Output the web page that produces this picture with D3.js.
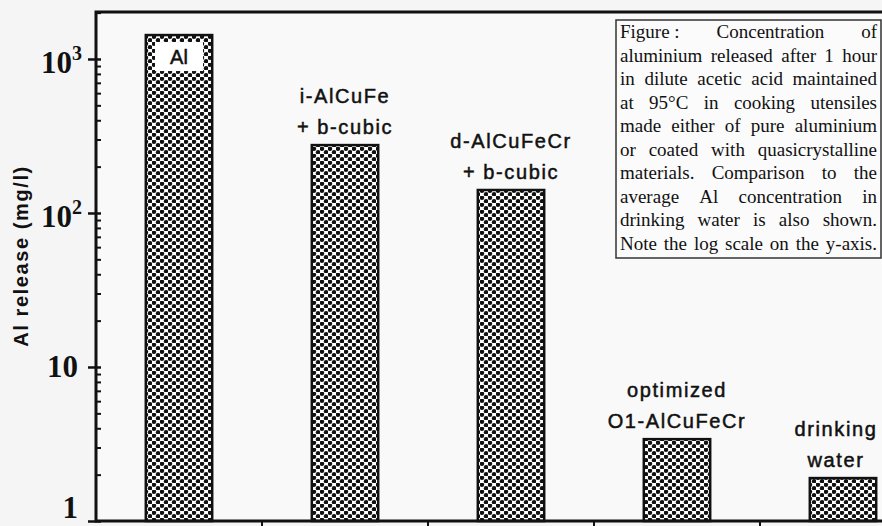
<!DOCTYPE html>
<html>
<head>
<meta charset="utf-8">
<script src="https://cdn.jsdelivr.net/npm/d3@7"></script>
<style>
  html, body { margin: 0; padding: 0; background: #f5f5f5; }
  svg { display: block; }
</style>
</head>
<body>
<script>
// Data
const categories = ["Al", "i-AlCuFe", "d-AlCuFeCr", "optimized", "drinking water"];
const values = [1430, 276, 141, 3.4, 1.9];
const barLabels = [["Al"], ["i-AlCuFe", "+ b-cubic"], ["d-AlCuFeCr", "+ b-cubic"], ["optimized", "O1-AlCuFeCr"], ["drinking", "water"]];
const majorTicks = [1, 10, 100, 1000];
const majorLabels = [["1", ""], ["10", ""], ["10", "2"], ["10", "3"]];
const captionLines = [
  ["Figure :", "Concentration", "of"],
  ["aluminium", "released", "after", "1", "hour"],
  ["in", "dilute", "acetic", "acid", "maintained"],
  ["at", "95°C", "in", "cooking", "utensiles"],
  ["made", "either", "of", "pure", "aluminium"],
  ["or", "coated", "with", "quasicrystalline"],
  ["materials.", "Comparison", "to", "the"],
  ["average", "Al", "concentration", "in"],
  ["drinking", "water", "is", "also", "shown."],
  ["Note", "the", "log", "scale", "on", "the", "y-axis."]
];

const width = 882, height = 526;
const margin = { left: 96, top: 12, bottom: 521 };

const svg = d3.select("body").append("svg")
  .attr("width", width)
  .attr("height", height);

// dotted fill like the scanned screen tone
const defs = svg.append("defs");
const pat = defs.append("pattern")
  .attr("id", "dots")
  .attr("patternUnits", "userSpaceOnUse")
  .attr("width", 8).attr("height", 7);
pat.append("rect").attr("width", 8).attr("height", 7).attr("fill", "#fff");
pat.append("circle").attr("cx", 2).attr("cy", 1.75).attr("r", 2.2).attr("fill", "#111");
pat.append("circle").attr("cx", 6).attr("cy", 5.25).attr("r", 2.2).attr("fill", "#111");

// plot area background
svg.append("rect")
  .attr("x", margin.left).attr("y", margin.top)
  .attr("width", width - margin.left).attr("height", margin.bottom - margin.top)
  .attr("fill", "#f9f9f9");

// scales
const x = d3.scaleBand()
  .domain(categories)
  .range([margin.left, 926])
  .paddingInner(0.6)
  .paddingOuter(0.3);

const y = d3.scaleLog()
  .domain([1, Math.pow(10, 3.305)])
  .range([margin.bottom, margin.top]);

// bars
svg.append("g")
  .selectAll("rect")
  .data(categories)
  .join("rect")
  .attr("x", d => x(d))
  .attr("y", (d, i) => y(values[i]))
  .attr("width", x.bandwidth())
  .attr("height", (d, i) => y(1) - y(values[i]))
  .attr("fill", "url(#dots)")
  .attr("stroke", "#111")
  .attr("stroke-width", 2.5);

const labelFont = "Liberation Sans, Arial, sans-serif";

// "Al" label sits inside its bar on a white patch
const alX = x(categories[0]) + x.bandwidth() / 2;
const alTop = y(values[0]);
svg.append("rect")
  .attr("x", alX - 24).attr("y", alTop + 7)
  .attr("width", 48).attr("height", 29)
  .attr("fill", "#fff");
svg.append("text")
  .attr("x", alX).attr("y", alTop + 29)
  .attr("text-anchor", "middle")
  .attr("font-family", labelFont)
  .attr("font-size", 20)
  .attr("stroke", "#111")
  .attr("stroke-width", 0.5)
  .attr("fill", "#111")
  .text(barLabels[0][0]);

// labels above other bars
const lineGap = 31;
categories.slice(1).forEach((c, j) => {
  const i = j + 1;
  const lines = barLabels[i];
  const cx = Math.min(x(c) + x.bandwidth() / 2, 836);
  const lastBase = y(values[i]) - 11;
  svg.append("text")
    .attr("text-anchor", "middle")
    .attr("font-family", labelFont)
    .attr("font-size", 20)
    .attr("letter-spacing", 1.6)
    .attr("stroke", "#111")
    .attr("stroke-width", 0.5)
    .attr("fill", "#111")
    .selectAll("tspan")
    .data(lines)
    .join("tspan")
    .attr("x", cx)
    .attr("y", (t, k) => lastBase - (lines.length - 1 - k) * lineGap)
    .text(t => t);
});

// y axis: minor ticks inside, major ticks across
const minor = [];
for (let p = 0; p < 4; p++) {
  for (let m = 2; m <= 9; m++) {
    const v = m * Math.pow(10, p);
    if (v < y.domain()[1]) minor.push(v);
  }
}

svg.append("g")
  .attr("transform", `translate(${margin.left},0)`)
  .call(d3.axisRight(y).tickValues(minor).tickSize(5).tickFormat(""))
  .call(g => g.select(".domain").remove())
  .call(g => g.selectAll("line").attr("stroke", "#111").attr("stroke-width", 2));

svg.append("g")
  .attr("transform", `translate(${margin.left + 5},0)`)
  .call(d3.axisLeft(y).tickValues(majorTicks).tickSize(13).tickFormat(""))
  .call(g => g.select(".domain").remove())
  .call(g => g.selectAll("line").attr("stroke", "#111").attr("stroke-width", 2.5));

// tick labels (serif bold, powers of ten)
const tickText = svg.append("g")
  .attr("font-family", "Liberation Serif, Times New Roman, serif")
  .attr("font-weight", "bold")
  .attr("fill", "#111")
  .selectAll("text")
  .data(majorTicks)
  .join("text")
  .attr("text-anchor", "end")
  .attr("x", (d, i) => majorLabels[i][1] ? 82 : 78)
  .attr("y", (d, i) => Math.min(y(d) + (majorLabels[i][1] ? 14 : 10), height - 8))
  .attr("font-size", 31);
tickText.append("tspan").text((d, i) => majorLabels[i][0]);
tickText.append("tspan")
  .attr("font-size", 20)
  .attr("dy", -13)
  .text((d, i) => majorLabels[i][1]);

// y axis title
svg.append("text")
  .attr("transform", `translate(28,256) rotate(-90)`)
  .attr("text-anchor", "middle")
  .attr("font-family", labelFont)
  .attr("font-weight", "bold")
  .attr("font-size", 20)
  .attr("letter-spacing", 1.6)
  .attr("fill", "#111")
  .text("Al release (mg/l)");

// x axis: ticks between the categories, pointing down
const step = x.step();
const bounds = categories.slice(1).map(c => x(c) + x.bandwidth() / 2 - step / 2);
svg.append("g")
  .selectAll("line")
  .data(bounds)
  .join("line")
  .attr("x1", d => d).attr("x2", d => d)
  .attr("y1", margin.bottom).attr("y2", margin.bottom + 7)
  .attr("stroke", "#111")
  .attr("stroke-width", 2);

// frame: left, top, bottom
svg.append("path")
  .attr("d", `M${width},${margin.top}H${margin.left}V${margin.bottom}H${width}`)
  .attr("fill", "none")
  .attr("stroke", "#111")
  .attr("stroke-width", 3);

// caption box, justified text
const box = { x: 616, y: 20, w: 266, h: 238 };
svg.append("rect")
  .attr("x", box.x).attr("y", box.y)
  .attr("width", box.w - 1).attr("height", box.h)
  .attr("fill", "#fbfbfb")
  .attr("stroke", "#333")
  .attr("stroke-width", 1.5);

const textLeft = box.x + 4, textRight = box.x + box.w - 5;
const capG = svg.append("g")
  .attr("font-family", "Liberation Serif, Times New Roman, serif")
  .attr("font-size", 19)
  .attr("fill", "#111");

captionLines.forEach((words, li) => {
  const base = 38 + li * 23.5;
  const nodes = words.map(w => capG.append("text").attr("y", base).text(w));
  const widths = nodes.map(n => n.node().getComputedTextLength());
  const total = d3.sum(widths);
  const gap = words.length > 1 ? (textRight - textLeft - total) / (words.length - 1) : 0;
  let cx = textLeft;
  nodes.forEach((n, k) => {
    n.attr("x", cx);
    cx += widths[k] + gap;
  });
});
</script>
</body>
</html>
